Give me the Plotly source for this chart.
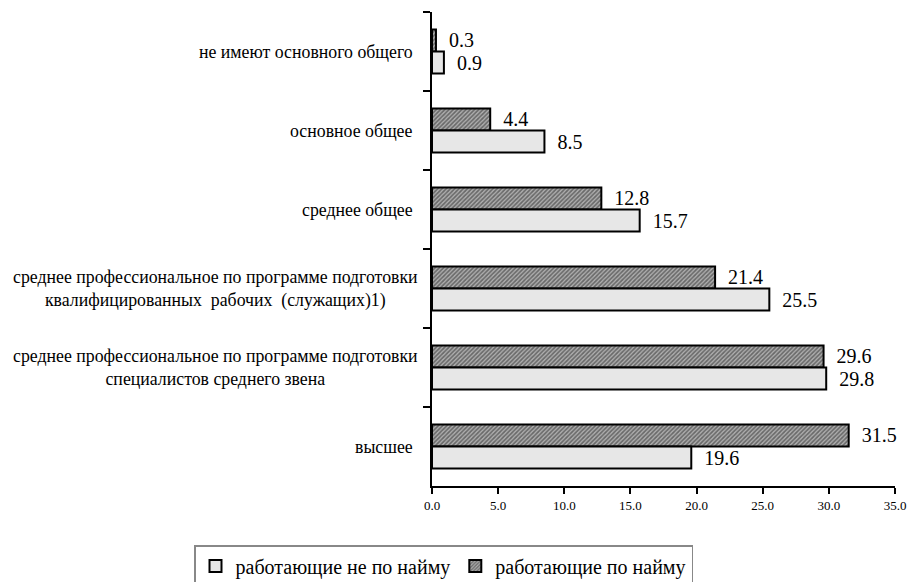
import plotly.graph_objects as go

categories = [
    "не имеют основного общего",
    "основное общее",
    "среднее общее",
    "среднее профессиональное по программе подготовки<br>квалифицированных  рабочих  (служащих)1)",
    "среднее профессиональное по программе подготовки<br>специалистов среднего звена",
    "высшее",
]
hired = [0.3, 4.4, 12.8, 21.4, 29.6, 31.5]
not_hired = [0.9, 8.5, 15.7, 25.5, 29.8, 19.6]
series_names = ["работающие по найму", "работающие не по найму"]
x_ticks = [0, 5, 10, 15, 20, 25, 30, 35]

FONT = "Liberation Serif, Times New Roman, serif"

W, H = 910, 582
L, R, T, B = 432, 15, 12, 96
PW, PH = W - L - R, H - T - B

fig = go.Figure()
fig.add_trace(go.Bar(
    y=categories, x=hired, orientation="h", name=series_names[0],
    text=[f"  {v:.1f}" for v in hired], textposition="outside",
    textfont=dict(size=20, family=FONT, color="black"),
    marker=dict(color="white", line=dict(color="black", width=2),
                pattern=dict(shape="/", fgcolor="#222222", bgcolor="#b0b0b0", size=3, solidity=0.55)),
    cliponaxis=False,
))
fig.add_trace(go.Bar(
    y=categories, x=not_hired, orientation="h", name=series_names[1],
    text=[f"  {v:.1f}" for v in not_hired], textposition="outside",
    textfont=dict(size=20, family=FONT, color="black"),
    marker=dict(color="white", line=dict(color="black", width=2),
                pattern=dict(shape=".", fgcolor="#909090", bgcolor="#ffffff", size=2, solidity=0.5)),
    cliponaxis=False,
))

for c in categories:
    multi = "<br>" in c
    fig.add_annotation(x=0, y=c, xref="x", yref="y", text=c, showarrow=False,
                       xanchor="right", align="center", xshift=-12 if multi else -17,
                       font=dict(size=17.8, family=FONT, color="black"))

legend_left = 194
legend_top = 545
fig.update_layout(
    width=W, height=H,
    margin=dict(l=L, r=R, t=T, b=B, autoexpand=False),
    plot_bgcolor="white", paper_bgcolor="white",
    barmode="group", bargap=0.44, bargroupgap=0,
    font=dict(family=FONT, color="black"),
    legend=dict(orientation="h", xref="paper", yref="paper",
                x=(legend_left - L) / PW, xanchor="left",
                y=-(legend_top - (T + PH)) / PH, yanchor="top",
                traceorder="reversed", bordercolor="#888", borderwidth=1.5,
                font=dict(size=20, family=FONT, color="black"),
                itemwidth=30, tracegroupgap=0),
    showlegend=True,
)
fig.update_xaxes(range=[0, 35], tickvals=x_ticks, ticktext=[f"{v:.1f}" for v in x_ticks],
                 showline=True, linecolor="black", linewidth=2, ticks="outside",
                 ticklen=6, tickwidth=2, tickcolor="black", showgrid=False, zeroline=False,
                 automargin=False, tickfont=dict(size=13, family=FONT, color="black"))
fig.update_yaxes(autorange="reversed", showticklabels=False, showline=True, linecolor="black",
                 linewidth=2, ticks="outside", tickson="boundaries", ticklen=7, tickwidth=2,
                 tickcolor="black", showgrid=False, automargin=False)

fig.write_html("out.html", config={"displayModeBar": False},
               post_script="document.body.style.margin='0';document.body.style.overflow='hidden';")
